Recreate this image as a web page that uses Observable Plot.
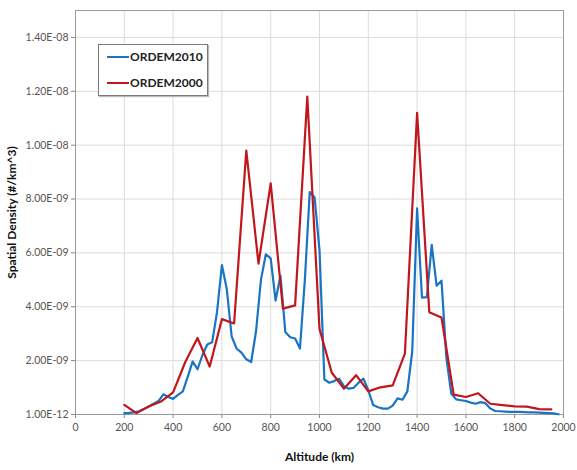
<!DOCTYPE html>
<html>
<head>
<meta charset="utf-8">
<script src="https://cdn.jsdelivr.net/npm/d3@7"></script>
<script src="https://cdn.jsdelivr.net/npm/@observablehq/plot@0.6"></script>
<style>
  html, body { margin: 0; padding: 0; background: #fff; }
  #wrap { position: relative; width: 577px; height: 470px; font-family: Lato, "Open Sans", sans-serif; }
  #legend {
    position: absolute; left: 98px; top: 44px; width: 108px; height: 50px;
    border: 1px solid #7a7a7a; box-shadow: 1px 1px 1px #bbb; background: #fff;
    font-family: Lato, sans-serif; font-weight: bold; font-size: 12px; color: #222;
  }
  .li { position: absolute; left: 8px; display: flex; align-items: center; }
  .sw { width: 22px; height: 2px; margin-right: 1px; }
  svg g[aria-label="y-axis label"] text, svg g[aria-label="x-axis label"] text { font-weight: bold; font-size: 12px; fill: #111; }
  svg g[aria-label="y-axis tick label"] text, svg g[aria-label="x-axis tick label"] text { fill: #555; }
</style>
</head>
<body>
<div id="wrap"></div>
<script>
// ORDEM2010 (blue), altitude km and spatial density in units of 1e-9 #/km^3
const alt2010 = [200,220,240,260,280,300,320,340,360,380,400,420,440,460,480,500,520,540,560,580,
  600,620,640,660,680,700,720,740,760,780,800,820,840,860,880,900,920,940,960,980,
  1000,1020,1040,1060,1080,1100,1120,1140,1160,1180,1200,1220,1240,1260,1280,1300,1320,1340,1360,1380,
  1400,1420,1440,1460,1480,1500,1520,1540,1560,1580,1600,1620,1640,1660,1680,1700,1720,1740,1760,1780,
  1800,1820,1840,1860,1880,1900,1920,1940,1960,1980];
const dens2010 = [0.05,0.06,0.08,0.12,0.2,0.3,0.4,0.5,0.75,0.65,0.58,0.73,0.86,1.4,1.97,1.68,2.2,2.6,2.68,3.8,
  5.55,4.66,2.9,2.45,2.3,2.05,1.95,3.1,5.0,5.95,5.8,4.23,5.15,3.06,2.87,2.82,2.45,5.0,8.26,8.06,
  6.1,1.3,1.18,1.24,1.33,1.05,0.96,0.99,1.18,1.33,0.9,0.35,0.27,0.22,0.22,0.33,0.6,0.55,0.86,2.33,
  7.65,4.34,4.36,6.3,4.78,4.97,2.1,0.78,0.56,0.53,0.5,0.44,0.4,0.46,0.42,0.22,0.13,0.12,0.11,0.1,
  0.1,0.1,0.09,0.08,0.08,0.07,0.06,0.05,0.04,0.01];
// ORDEM2000 (red)
const alt2000 = [200,250,300,350,400,450,500,550,600,650,700,750,800,850,900,950,1000,1050,1100,1150,
  1200,1250,1300,1350,1400,1450,1500,1550,1600,1650,1700,1750,1800,1850,1900,1950];
const dens2000 = [0.36,0.05,0.30,0.48,0.82,1.95,2.84,1.78,3.54,3.38,9.8,5.6,8.58,3.93,4.05,11.8,3.18,1.56,0.96,1.46,
  0.86,1.01,1.08,2.26,11.2,3.8,3.6,0.74,0.65,0.79,0.4,0.35,0.3,0.29,0.2,0.19];

const seriesNames = ["ORDEM2010", "ORDEM2000"];
const seriesColors = ["#1a74c4", "#c0161c"];
const yTickValues = [0.001, 2, 4, 6, 8, 10, 12, 14];
const yTickLabels = ["1.00E-12","2.00E-09","4.00E-09","6.00E-09","8.00E-09","1.00E-08","1.20E-08","1.40E-08"];
const xTickValues = [0,200,400,600,800,1000,1200,1400,1600,1800,2000];

const rows = [];
alt2010.forEach((a, i) => rows.push({series: seriesNames[0], alt: a, d: dens2010[i]}));
alt2000.forEach((a, i) => rows.push({series: seriesNames[1], alt: a, d: dens2000[i]}));

const chart = Plot.plot({
  width: 577, height: 470,
  marginLeft: 75, marginRight: 14, marginTop: 10, marginBottom: 56,
  style: {fontFamily: "Lato, 'Open Sans', sans-serif", fontSize: "10.5px", background: "#fff"},
  x: {domain: [0, 2000]},
  y: {domain: [0, 15]},
  color: {domain: seriesNames, range: seriesColors},
  marks: [
    Plot.gridX(xTickValues, {stroke: "#dcdcdc", strokeOpacity: 1}),
    Plot.gridY(yTickValues, {stroke: "#dcdcdc", strokeOpacity: 1}),
    Plot.frame({stroke: "#9a9a9a"}),
    Plot.axisX(xTickValues, {tickSize: 4, tickPadding: 5, stroke: "#888", tickFormat: d => String(d), label: "Altitude (km)", labelAnchor: "center", labelArrow: "none", labelOffset: 46}),
    Plot.axisY(yTickValues, {tickSize: 4, tickPadding: 3, stroke: "#888", tickFormat: (d, i) => yTickLabels[i], label: "Spatial Density (#/km^3)", labelAnchor: "center", labelArrow: "none", labelOffset: 68}),
    Plot.ruleY([0], {stroke: "#9a9a9a"}),
    Plot.line(rows, {x: "alt", y: "d", z: "series", stroke: "series", strokeWidth: 2.2, strokeLinejoin: "round"})
  ]
});

const wrap = document.getElementById("wrap");
wrap.appendChild(chart);

const legend = document.createElement("div");
legend.id = "legend";
seriesNames.forEach((name, i) => {
  const item = document.createElement("div");
  item.className = "li";
  item.style.top = (i === 0 ? 4 : 30) + "px";
  const sw = document.createElement("span");
  sw.className = "sw";
  sw.style.background = seriesColors[i];
  const t = document.createElement("span");
  t.textContent = name;
  item.appendChild(sw); item.appendChild(t);
  legend.appendChild(item);
});
wrap.appendChild(legend);
</script>
</body>
</html>
